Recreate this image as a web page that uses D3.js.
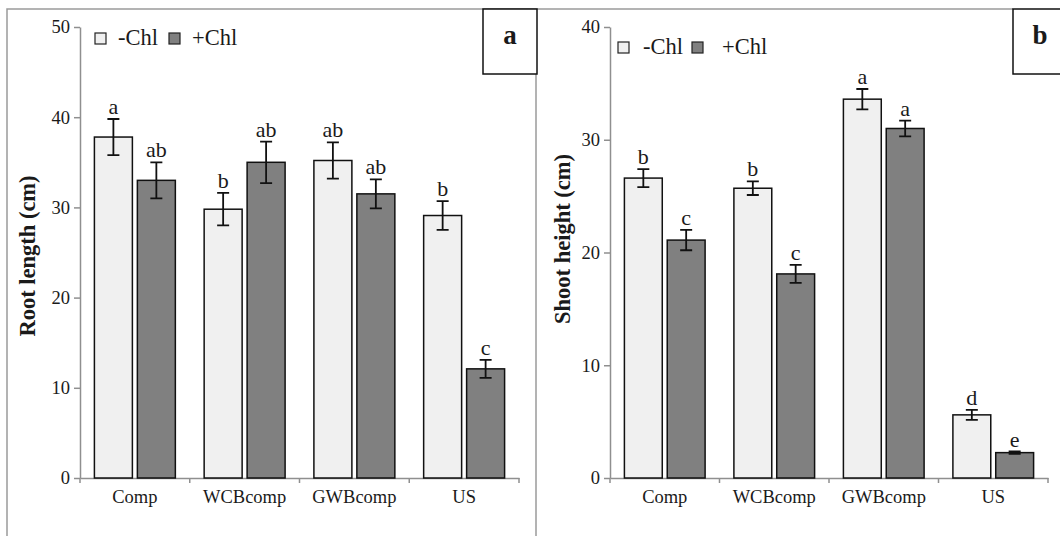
<!DOCTYPE html>
<html>
<head>
<meta charset="utf-8">
<script src="https://cdn.jsdelivr.net/npm/d3@7"></script>
<style>
  body { margin: 0; background: #fff; }
  text { font-family: "Liberation Serif", "Times New Roman", serif; fill: #1a1a1a; }
</style>
</head>
<body>
<div id="chart"></div>
<script>
const groups = ["Comp", "WCBcomp", "GWBcomp", "US"];
const series = ["-Chl", "+Chl"];

// panel a: root length
const rootMinus = [37.8, 29.8, 35.2, 29.1];
const rootPlus = [33.0, 35.0, 31.5, 12.1];
const rootMinusErr = [2.0, 1.8, 2.0, 1.6];
const rootPlusErr = [2.0, 2.3, 1.6, 1.0];
const rootMinusLetters = ["a", "b", "ab", "b"];
const rootPlusLetters = ["ab", "ab", "ab", "c"];
const rootTicks = [0, 10, 20, 30, 40, 50];

// panel b: shoot height
const shootMinus = [26.6, 25.7, 33.6, 5.6];
const shootPlus = [21.1, 18.1, 31.0, 2.25];
const shootMinusErr = [0.8, 0.6, 0.9, 0.45];
const shootPlusErr = [0.9, 0.8, 0.7, 0.1];
const shootMinusLetters = ["b", "b", "a", "d"];
const shootPlusLetters = ["c", "c", "a", "e"];
const shootTicks = [0, 10, 20, 30, 40];

const colors = { "-Chl": "#f0f0f0", "+Chl": "#808080" };
const axisGray = "#8f8f8f";

const svg = d3.select("#chart")
  .append("svg")
  .attr("width", 1060)
  .attr("height", 536);

// panel frames
svg.append("path")
  .attr("d", "M7,536 V9 H1013 M536,9 V536")
  .attr("fill", "none")
  .attr("stroke", "#9a9a9a")
  .attr("stroke-width", 1.5);

function drawPanel(opt) {
  const left = opt.left, right = opt.right;
  const top = 27, bottom = 478;

  const g = svg.append("g");

  const x = d3.scaleBand().domain(groups).range([left, right]);
  const x1 = d3.scaleBand()
    .domain(series)
    .range([14.4, x.bandwidth() - 14.4])
    .paddingInner(0.116);
  const y = d3.scaleLinear().domain([0, opt.max]).range([bottom, top]);

  const rows = groups.map((name, i) => ({
    name,
    vals: [
      { s: "-Chl", v: opt.minus[i], e: opt.minusErr[i], l: opt.minusLetters[i] },
      { s: "+Chl", v: opt.plus[i], e: opt.plusErr[i], l: opt.plusLetters[i] }
    ]
  }));

  // y axis
  const yAxis = d3.axisLeft(y)
    .tickValues(opt.ticks)
    .tickSize(6)
    .tickSizeOuter(0)
    .tickPadding(4);
  const ya = g.append("g")
    .attr("transform", `translate(${left},0)`)
    .call(yAxis);
  ya.selectAll("path, line").attr("stroke", axisGray).attr("stroke-width", 1.5);
  ya.selectAll("text").style("font-size", "18.5px").attr("fill", "#1a1a1a");

  // x axis
  const xAxis = d3.axisBottom(x).tickSize(0).tickSizeOuter(0).tickPadding(12);
  const xa = g.append("g")
    .attr("transform", `translate(0,${bottom})`)
    .call(xAxis);
  xa.select(".domain").attr("stroke", axisGray).attr("stroke-width", 1.5);
  xa.selectAll("text").style("font-size", "18.5px").attr("fill", "#1a1a1a");

  // boundary ticks between categories
  const bounds = groups.map(d => x(d)).concat([right]);
  g.selectAll(".btick")
    .data(bounds)
    .enter()
    .append("line")
    .attr("class", "btick")
    .attr("x1", d => d).attr("x2", d => d)
    .attr("y1", bottom).attr("y2", bottom + 5)
    .attr("stroke", axisGray)
    .attr("stroke-width", 1.5);

  // bars
  const grp = g.selectAll(".grp")
    .data(rows)
    .enter()
    .append("g")
    .attr("transform", d => `translate(${x(d.name)},0)`);

  grp.selectAll("rect")
    .data(d => d.vals)
    .enter()
    .append("rect")
    .attr("x", d => x1(d.s))
    .attr("y", d => y(d.v))
    .attr("width", x1.bandwidth())
    .attr("height", d => bottom - y(d.v))
    .attr("fill", d => colors[d.s])
    .attr("stroke", "#111")
    .attr("stroke-width", 1.5);

  // error bars
  const cap = 6;
  grp.selectAll(".err")
    .data(d => d.vals)
    .enter()
    .append("path")
    .attr("class", "err")
    .attr("d", d => {
      const cx = x1(d.s) + x1.bandwidth() / 2;
      const y0 = y(d.v - d.e), y1 = y(d.v + d.e);
      return `M${cx - cap},${y1} H${cx + cap} M${cx},${y1} V${y0} M${cx - cap},${y0} H${cx + cap}`;
    })
    .attr("fill", "none")
    .attr("stroke", "#111")
    .attr("stroke-width", 1.8);

  // significance letters
  grp.selectAll(".lbl")
    .data(d => d.vals)
    .enter()
    .append("text")
    .attr("class", "lbl")
    .attr("x", d => x1(d.s) + x1.bandwidth() / 2)
    .attr("y", d => y(d.v + d.e) - 5)
    .attr("text-anchor", "middle")
    .style("font-size", "22px")
    .text(d => d.l);

  // y title
  g.append("text")
    .attr("transform", `translate(${opt.titleX},${opt.titleY}) rotate(-90)`)
    .attr("text-anchor", "middle")
    .style("font-size", "22.5px")
    .style("font-weight", "bold")
    .text(opt.title);

  // legend
  const lg = g.append("g").attr("transform", `translate(${opt.legX},${opt.legY})`);
  const legItems = [
    { s: "-Chl", dx: 0, tx: opt.legText[0] },
    { s: "+Chl", dx: opt.legStep, tx: opt.legText[1] }
  ];
  legItems.forEach(it => {
    lg.append("rect")
      .attr("x", it.dx)
      .attr("y", -12)
      .attr("width", 11)
      .attr("height", 11)
      .attr("fill", colors[it.s])
      .attr("stroke", "#222")
      .attr("stroke-width", 1.2);
    lg.append("text")
      .attr("x", it.dx + it.tx)
      .attr("y", 0)
      .style("font-size", "22.5px")
      .text(it.s);
  });

  // panel letter box
  g.append("rect")
    .attr("x", opt.boxX)
    .attr("y", 9)
    .attr("width", opt.boxW)
    .attr("height", 65)
    .attr("fill", "#fff")
    .attr("stroke", "#111")
    .attr("stroke-width", 1.5);
  g.append("text")
    .attr("x", opt.boxX + 27)
    .attr("y", 44)
    .attr("text-anchor", "middle")
    .style("font-size", "27px")
    .style("font-weight", "bold")
    .text(opt.letter);
}

drawPanel({
  left: 80, right: 519, max: 50, ticks: rootTicks,
  minus: rootMinus, plus: rootPlus,
  minusErr: rootMinusErr, plusErr: rootPlusErr,
  minusLetters: rootMinusLetters, plusLetters: rootPlusLetters,
  title: "Root length (cm)", titleX: 35, titleY: 256,
  legX: 95, legY: 45, legStep: 74, legText: [23, 23],
  boxX: 483, boxW: 54, letter: "a"
});

drawPanel({
  left: 610, right: 1048, max: 40, ticks: shootTicks,
  minus: shootMinus, plus: shootPlus,
  minusErr: shootMinusErr, plusErr: shootPlusErr,
  minusLetters: shootMinusLetters, plusLetters: shootPlusLetters,
  title: "Shoot height (cm)", titleX: 570, titleY: 239,
  legX: 618, legY: 54, legStep: 74, legText: [25, 30],
  boxX: 1013, boxW: 54, letter: "b"
});
</script>
</body>
</html>
